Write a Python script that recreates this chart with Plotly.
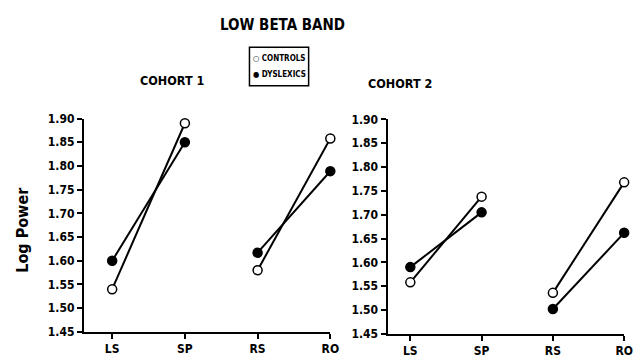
import plotly.graph_objects as go

categories = ["LS", "SP", "RS", "RO"]
# Cohort 1
c1_controls = [1.54, 1.89, 1.58, 1.858]
c1_dyslexics = [1.60, 1.85, 1.617, 1.789]
# Cohort 2
c2_controls = [1.558, 1.738, 1.536, 1.768]
c2_dyslexics = [1.59, 1.705, 1.502, 1.662]
yticks = [1.45, 1.50, 1.55, 1.60, 1.65, 1.70, 1.75, 1.80, 1.85, 1.90]

FONT = "DejaVu Sans Condensed, Liberation Sans Narrow, sans-serif"

def gapped(cats, vals):
    # connect LS-SP and RS-RO separately
    return cats[:2] + [None] + cats[2:], vals[:2] + [None] + vals[2:]

fig = go.Figure()

for vals, filled, xa, ya in [
    (c1_controls, False, "x", "y"),
    (c1_dyslexics, True, "x", "y"),
    (c2_controls, False, "x2", "y2"),
    (c2_dyslexics, True, "x2", "y2"),
]:
    xs, ys = gapped(categories, vals)
    fig.add_trace(go.Scatter(
        x=xs, y=ys, xaxis=xa, yaxis=ya, mode="lines+markers",
        connectgaps=False, showlegend=False, cliponaxis=False,
        line=dict(color="black", width=2),
        marker=dict(size=9, color="black" if filled else "white",
                    line=dict(color="black", width=1.5)),
    ))

axis_common = dict(showline=True, linecolor="black", linewidth=2, showgrid=False,
                   zeroline=False, ticks="outside", tickcolor="black", tickwidth=1.5,
                   ticklen=5, tickfont=dict(family=FONT, size=12, color="black", weight="bold"))

fig.update_layout(
    width=644, height=361, margin=dict(l=0, r=0, t=0, b=0),
    paper_bgcolor="white", plot_bgcolor="white",
    font=dict(family=FONT, color="black"),
    xaxis=dict(domain=[85/644, 335/644], type="category", categoryarray=categories,
               range=[-0.39, 3.0], anchor="y", **axis_common),
    yaxis=dict(domain=[1-338/361, 1-116/361], range=[1.45, 1.90], tickvals=yticks,
               tickformat=".2f", anchor="x", **axis_common),
    xaxis2=dict(domain=[393/644, 633/644], type="category", categoryarray=categories,
                range=[-0.32, 3.0], anchor="y2", **axis_common),
    yaxis2=dict(domain=[1-340/361, 1-117/361], range=[1.45, 1.90], tickvals=yticks,
                tickformat=".2f", anchor="x2", **axis_common),
)

def ann(text, x, y, size, angle=0, xanchor="center"):
    fig.add_annotation(text=text, x=x/644, y=1-y/361, xref="paper", yref="paper",
                       showarrow=False, textangle=angle, xanchor=xanchor, yanchor="middle",
                       font=dict(family=FONT, size=size, color="black", weight="bold"))

ann("LOW BETA BAND", 286, 19, 15)
ann("COHORT 1", 174, 76, 12.5)
ann("COHORT 2", 406, 80, 12.5)
ann("Log Power", 22, 232, 16, angle=-90)

# legend box
fig.add_shape(type="rect", xref="paper", yref="paper",
              x0=253/644, x1=313/644, y0=1-82/361, y1=1-42/361,
              line=dict(color="black", width=1.5), fillcolor="white")
ann("○ CONTROLS", 255, 54, 8, xanchor="left")
ann("● DYSLEXICS", 255, 70, 8, xanchor="left")

fig.write_html("out.html", config={"displayModeBar": False},
               post_script="document.body.style.margin='0';document.body.style.overflow='hidden';")
